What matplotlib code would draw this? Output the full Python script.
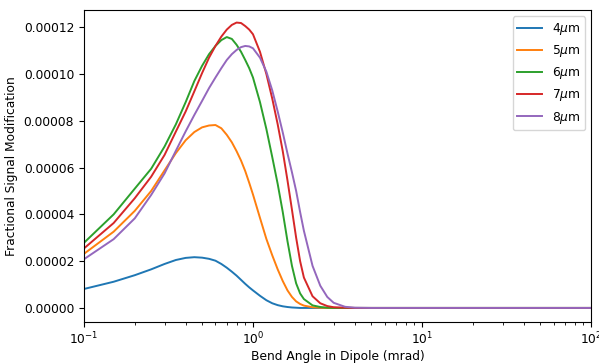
import matplotlib
matplotlib.use("Agg")
import matplotlib.pyplot as plt

plt.rcParams['font.size'] = 8.8

# bend angle (mrad)
angles = [0.1, 0.15, 0.2, 0.25, 0.3, 0.35, 0.4, 0.45, 0.5, 0.55, 0.6, 0.65, 0.7, 0.75,
          0.8, 0.85, 0.9, 0.95, 1.0,
          1.1, 1.2, 1.3, 1.4, 1.5, 1.6, 1.7, 1.8, 1.9, 2.0,
          2.25, 2.5, 2.75, 3.0, 3.5, 4.0, 5.0, 10.0, 100.0]

# fractional signal modification, in units of 1e-5
sig_4um = [0.81, 1.12, 1.40, 1.65, 1.88, 2.05, 2.14, 2.17, 2.15, 2.10, 2.02, 1.88, 1.72, 1.55,
           1.38, 1.20, 1.03, 0.88, 0.75,
           0.52, 0.33, 0.20, 0.12, 0.07, 0.04, 0.02, 0.01, 0.0, 0.0,
           0.0, 0.0, 0.0, 0.0, 0.0, 0.0, 0.0, 0.0, 0.0]
sig_5um = [2.31, 3.26, 4.15, 5.00, 5.88, 6.62, 7.17, 7.52, 7.72, 7.80, 7.82, 7.68, 7.40, 7.08,
           6.70, 6.30, 5.85, 5.35, 4.85,
           3.85, 2.95, 2.25, 1.65, 1.15, 0.75, 0.47, 0.28, 0.17, 0.10,
           0.03, 0.01, 0.0, 0.0, 0.0, 0.0, 0.0, 0.0, 0.0]
sig_6um = [2.78, 4.00, 5.10, 5.95, 6.90, 7.85, 8.80, 9.70, 10.35, 10.85, 11.20, 11.45, 11.58, 11.50,
           11.25, 10.95, 10.60, 10.25, 9.85,
           8.80, 7.65, 6.45, 5.30, 4.10, 2.85, 1.80, 1.05, 0.62, 0.38,
           0.11, 0.04, 0.01, 0.0, 0.0, 0.0, 0.0, 0.0, 0.0]
sig_7um = [2.54, 3.63, 4.69, 5.61, 6.54, 7.54, 8.40, 9.26, 10.04, 10.70, 11.20, 11.60, 11.90, 12.10,
           12.20, 12.18, 12.05, 11.90, 11.70,
           10.95, 10.00, 8.95, 7.85, 6.70, 5.45, 4.20, 3.00, 2.00, 1.30,
           0.50, 0.20, 0.08, 0.03, 0.01, 0.0, 0.0, 0.0, 0.0]
sig_8um = [2.08, 2.94, 3.83, 4.83, 5.75, 6.72, 7.55, 8.25, 8.85, 9.40, 9.85, 10.25, 10.60, 10.85,
           11.03, 11.15, 11.20, 11.18, 11.10,
           10.70, 10.10, 9.30, 8.40, 7.50, 6.60, 5.80, 5.00, 4.10, 3.30,
           1.80, 0.95, 0.47, 0.22, 0.05, 0.01, 0.0, 0.0, 0.0]

labels = ["4$\\mu$m", "5$\\mu$m", "6$\\mu$m", "7$\\mu$m", "8$\\mu$m"]
series = [sig_4um, sig_5um, sig_6um, sig_7um, sig_8um]

fig = plt.figure(figsize=(5.99, 3.63), dpi=100)
ax = fig.add_axes([0.140, 0.113, 0.847, 0.859])

for lab, vals in zip(labels, series):
    ax.plot(angles, [v * 1e-5 for v in vals], label=lab, linewidth=1.4)

ax.set_xscale("log")
ax.set_xlim(0.1, 100)
ax.set_ylim(-0.000006, 0.0001273)
ax.tick_params(axis='x', pad=2.5)
ax.set_xlabel("Bend Angle in Dipole (mrad)", labelpad=2)
ax.set_ylabel("Fractional Signal Modification")
ax.legend(loc="upper right")

fig.savefig("out.png", dpi=100)
